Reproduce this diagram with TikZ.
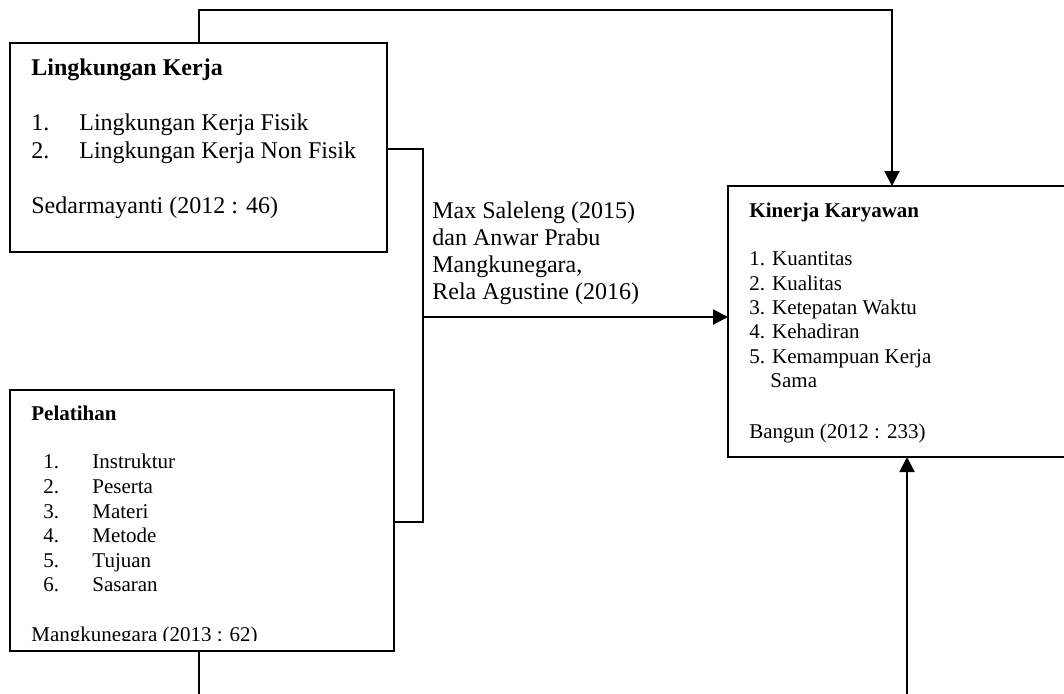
\documentclass[tikz,border=0pt]{standalone}
\usepackage{fontspec}
\setmainfont{Liberation Serif}
\usetikzlibrary{arrows.meta}

\begin{document}
\begin{tikzpicture}[x=0.5pt,y=-0.5pt]
  \tikzset{BoxStyle/.style = {
    shape         = rectangle,
    draw          = black,
    fill          = white,
    line width    = 1pt,
    inner sep     = 0pt,
    outer sep     = 0pt,
    anchor        = north west
    }
  }
  \tikzset{LineStyle/.style = {
    draw          = black,
    line width    = 1pt
    }
  }
  \tikzset{ArrowStyle/.style = {
    LineStyle,
    -{Triangle[length=7.5pt,width=7.5pt]}
    }
  }
  \tikzset{BigText/.style = {
    font          = \fontsize{12}{14}\selectfont,
    anchor        = base west,
    inner sep     = 0pt
    }
  }
  \tikzset{SmallText/.style = {
    font          = \fontsize{10.5}{12.5}\selectfont,
    anchor        = base west,
    inner sep     = 0pt
    }
  }

  \clip (0,0) rectangle (1064,693);

	% boxes
	\node[BoxStyle, minimum width=188.5pt, minimum height=104.5pt](lk) at (10,43) {};
	\node[BoxStyle, minimum width=192pt, minimum height=130.5pt](pl) at (10,390) {};
	\node[BoxStyle, minimum width=200pt, minimum height=135.5pt](kk) at (728,186) {};

	% Lingkungan Kerja
	\node[BigText, font=\fontsize{12}{14}\selectfont\bfseries](lkTitle) at (31,75) {Lingkungan Kerja};
	\node[BigText](lkOne) at (31,130) {\makebox[24pt][l]{1.}Lingkungan Kerja Fisik};
	\node[BigText](lkTwo) at (31,158) {\makebox[24pt][l]{2.}Lingkungan Kerja Non Fisik};
	\node[BigText](lkRef) at (31,213) {Sedarmayanti (2012 : 46)};

	% Pelatihan
	\node[SmallText, font=\fontsize{10.5}{12.5}\selectfont\bfseries](plTitle) at (31,420) {Pelatihan};
	\node[SmallText](plOne) at (43,468) {\makebox[24.5pt][l]{1.}Instruktur};
	\node[SmallText](plTwo) at (43,493) {\makebox[24.5pt][l]{2.}Peserta};
	\node[SmallText](plThree) at (43,518) {\makebox[24.5pt][l]{3.}Materi};
	\node[SmallText](plFour) at (43,542) {\makebox[24.5pt][l]{4.}Metode};
	\node[SmallText](plFive) at (43,567) {\makebox[24.5pt][l]{5.}Tujuan};
	\node[SmallText](plSix) at (43,591) {\makebox[24.5pt][l]{6.}Sasaran};
	\begin{scope}
	  \clip (0,0) rectangle (1064,640);
	  \node[SmallText](plRef) at (31,641) {Mangkunegara (2013 : 62)};
	\end{scope}

	% Kinerja Karyawan
	\node[SmallText, font=\fontsize{10.5}{12.5}\selectfont\bfseries](kkTitle) at (749,217) {Kinerja Karyawan};
	\node[SmallText](kkOne) at (749,265) {1. Kuantitas};
	\node[SmallText](kkTwo) at (749,290) {2. Kualitas};
	\node[SmallText](kkThree) at (749,314) {3. Ketepatan Waktu};
	\node[SmallText](kkFour) at (749,338) {4. Kehadiran};
	\node[SmallText](kkFive) at (749,363) {5. Kemampuan Kerja};
	\node[SmallText](kkSix) at (770,387) {Sama};
	\node[SmallText](kkRef) at (749,438) {Bangun (2012 : 233)};

	% middle label
	\node[BigText](midA) at (432,218) {Max Saleleng (2015)};
	\node[BigText](midB) at (432,245) {dan Anwar Prabu};
	\node[BigText](midC) at (432,272) {Mangkunegara,};
	\node[BigText](midD) at (432,299) {Rela Agustine (2016)};

	% connectors
	\coordinate (topL) at (199,10);
	\coordinate (topR) at (892,10);
	\coordinate (brA) at (423,149);
	\coordinate (brB) at (423,522);
	\coordinate (brM) at (423,317);
	\coordinate (botL) at (199,720);
	\coordinate (botR) at (907,720);
	\draw[ArrowStyle] (lk.north -| topL) -- (topL) -- (topR) -- (kk.north -| topR);
	\draw[LineStyle] (lk.east |- brA) -- (brA) -- (brB) -- (pl.east |- brB);
	\draw[ArrowStyle] (brM) -- (kk.west |- brM);
	\draw[ArrowStyle] (pl.south -| botL) -- (botL) -- (botR) -- (kk.south -| botR);

\end{tikzpicture}
\end{document}
